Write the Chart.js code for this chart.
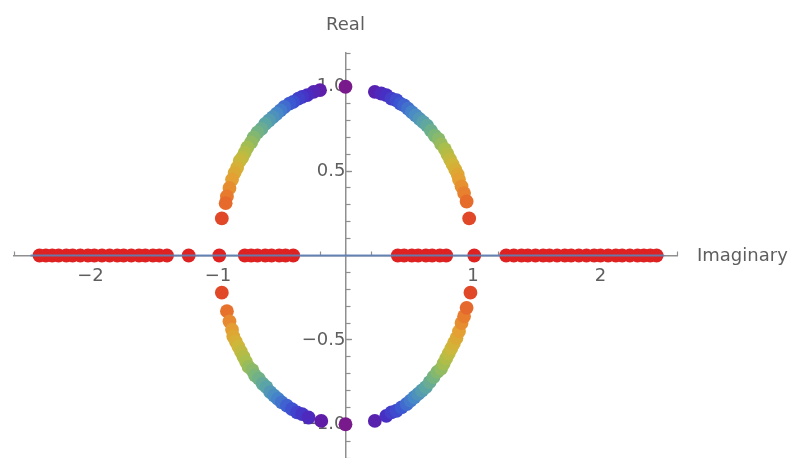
<!DOCTYPE html>
<html>
<head>
<meta charset="utf-8">
<script src="https://cdn.jsdelivr.net/npm/chart.js@4/dist/chart.umd.min.js"></script>
<style>
  html, body { margin: 0; padding: 0; background: #fff; }
  #wrap { width: 789px; height: 458px; position: relative; }
</style>
</head>
<body>
<div id="wrap"><canvas id="c"></canvas></div>
<script>
// Eigenvalues on the unit circle (x = imaginary part, y = real part)
const arcUpperLeft = [
  [-0.20, 0.98], [-0.25, 0.97], [-0.30, 0.95], [-0.34, 0.94], [-0.37, 0.93],
  [-0.41, 0.91], [-0.44, 0.90], [-0.48, 0.88], [-0.51, 0.86], [-0.54, 0.84],
  [-0.57, 0.82], [-0.60, 0.80], [-0.63, 0.78], [-0.66, 0.75], [-0.69, 0.73],
  [-0.72, 0.70], [-0.74, 0.67], [-0.77, 0.64], [-0.79, 0.61], [-0.81, 0.58],
  [-0.83, 0.56], [-0.85, 0.52], [-0.87, 0.49], [-0.89, 0.45], [-0.91, 0.40],
  [-0.93, 0.35], [-0.94, 0.31], [-0.97, 0.22]
];
const arcUpperRight = [
  [0.23, 0.97], [0.28, 0.96], [0.32, 0.95], [0.36, 0.93], [0.40, 0.92],
  [0.43, 0.90], [0.46, 0.89], [0.49, 0.87], [0.52, 0.85], [0.55, 0.83],
  [0.58, 0.81], [0.61, 0.79], [0.64, 0.77], [0.67, 0.74], [0.70, 0.71],
  [0.73, 0.69], [0.75, 0.66], [0.78, 0.63], [0.80, 0.60], [0.82, 0.57],
  [0.84, 0.54], [0.86, 0.51], [0.88, 0.48], [0.89, 0.45], [0.91, 0.41],
  [0.93, 0.37], [0.95, 0.32], [0.97, 0.22]
];
const arcLowerLeft = [
  [-0.97, -0.22], [-0.93, -0.33], [-0.91, -0.39], [-0.89, -0.44], [-0.88, -0.48],
  [-0.86, -0.51], [-0.84, -0.54], [-0.82, -0.57], [-0.80, -0.60], [-0.78, -0.63],
  [-0.76, -0.66], [-0.73, -0.68], [-0.71, -0.71], [-0.68, -0.73], [-0.65, -0.76],
  [-0.62, -0.78], [-0.59, -0.81], [-0.56, -0.83], [-0.53, -0.85], [-0.50, -0.87],
  [-0.46, -0.89], [-0.42, -0.91], [-0.38, -0.93], [-0.34, -0.94], [-0.29, -0.96],
  [-0.19, -0.98]
];
const arcLowerRight = [
  [0.23, -0.98], [0.32, -0.95], [0.36, -0.93], [0.40, -0.92], [0.44, -0.90],
  [0.48, -0.88], [0.51, -0.86], [0.54, -0.84], [0.57, -0.82], [0.60, -0.80],
  [0.63, -0.78], [0.66, -0.75], [0.69, -0.72], [0.72, -0.69], [0.75, -0.67],
  [0.77, -0.64], [0.79, -0.61], [0.81, -0.58], [0.83, -0.55], [0.85, -0.52],
  [0.87, -0.49], [0.89, -0.45], [0.91, -0.40], [0.93, -0.36], [0.95, -0.31],
  [0.98, -0.22]
];
const axisPoints = [[0, 1.0], [0, -1.0]];

// Purely real eigenvalues, plotted along the horizontal axis
const realEigen = [
  -2.40, -2.35, -2.30, -2.25, -2.19, -2.14, -2.08, -2.02, -1.97, -1.91,
  -1.85, -1.79, -1.74, -1.68, -1.62, -1.57, -1.51, -1.46, -1.40, -1.23,
  -0.99, -0.79, -0.74, -0.69, -0.63, -0.58, -0.52, -0.47, -0.41,
  0.41, 0.46, 0.52, 0.57, 0.63, 0.68, 0.74, 0.79, 1.01,
  1.26, 1.32, 1.38, 1.43, 1.49, 1.55, 1.60, 1.66, 1.72, 1.77, 1.83,
  1.89, 1.95, 2.00, 2.06, 2.12, 2.17, 2.23, 2.29, 2.34, 2.39, 2.44
];

// Reference line along the axis
const lineX = [-2.47, 2.50];
const lineY = [0, 0];

// Axis ticks
const xLabelTicks = [-2, -1, 1, 2];
const yLabelTicks = [-1.0, -0.5, 0.5, 1.0];
const xRange = [-2.6, 2.6];
const yRange = [-1.2, 1.2];

const FONT = 'DejaVu Sans';
const AXIS_GRAY = '#8f8f8f';
const LABEL_GRAY = '#5e5e5e';
const DOT_R = 6.9;

// Rainbow palette, purple near the imaginary axis to red near the real axis
const rainbow = [
  [0.00, [120, 26, 140]],
  [0.14, [96, 28, 166]],
  [0.24, [72, 46, 196]],
  [0.33, [60, 84, 210]],
  [0.42, [70, 134, 202]],
  [0.50, [90, 164, 168]],
  [0.58, [122, 182, 122]],
  [0.66, [166, 190, 78]],
  [0.74, [206, 184, 58]],
  [0.82, [228, 160, 50]],
  [0.90, [232, 122, 46]],
  [1.00, [224, 72, 40]]
];
function rainbowAt(t) {
  t = Math.max(0, Math.min(1, t));
  for (let i = 1; i < rainbow.length; i++) {
    const [t1, c1] = rainbow[i];
    const [t0, c0] = rainbow[i - 1];
    if (t <= t1) {
      const f = (t - t0) / (t1 - t0);
      const c = c0.map((v, k) => Math.round(v + (c1[k] - v) * f));
      return `rgb(${c[0]},${c[1]},${c[2]})`;
    }
  }
  const c = rainbow[rainbow.length - 1][1];
  return `rgb(${c[0]},${c[1]},${c[2]})`;
}
function arcColor(p) {
  const ang = Math.atan2(Math.abs(p.x), Math.abs(p.y)) * 180 / Math.PI;
  return rainbowAt(ang / 77);
}

const toXY = arr => arr.map(([x, y]) => ({ x, y }));
const arcData = [].concat(
  toXY(arcUpperLeft), toXY(arcUpperRight), toXY(arcLowerLeft),
  toXY(arcLowerRight), toXY(axisPoints)
);
const realData = realEigen.map(x => ({ x, y: 0 }));
const lineData = lineX.map((x, i) => ({ x, y: lineY[i] }));

const minus = s => s.replace('-', '\u2212');
const fmtX = v => minus(String(v));
const fmtY = v => minus(v.toFixed(1));

function stepTicks(lo, hi, step) {
  const out = [];
  const n = Math.round((hi - lo) / step);
  for (let i = 0; i <= n; i++) out.push({ value: +(lo + i * step).toFixed(4) });
  return out;
}

// Crossing axes should not push the plot area inwards
const noPad = s => { s.paddingLeft = 0; s.paddingRight = 0; s.paddingTop = 0; s.paddingBottom = 0; };

// Axis titles placed at the ends of the crossing axes
const axisTitles = {
  id: 'axisTitles',
  afterDraw(chart) {
    const { ctx, scales: { x, y } } = chart;
    ctx.save();
    ctx.fillStyle = LABEL_GRAY;
    ctx.font = `18px "${FONT}"`;
    ctx.textAlign = 'left';
    ctx.textBaseline = 'middle';
    ctx.fillText('Imaginary', x.right + 20, y.getPixelForValue(0) + 1);
    ctx.textAlign = 'center';
    ctx.textBaseline = 'alphabetic';
    ctx.fillText('Real', x.getPixelForValue(0), y.top - 23);
    ctx.restore();
  }
};

new Chart(document.getElementById('c'), {
  type: 'scatter',
  data: {
    datasets: [
      {
        data: lineData,
        showLine: true,
        borderColor: 'rgba(94,129,181,0.9)',
        borderWidth: 2.2,
        pointRadius: 0,
        order: 0,
        xAxisID: 'x', yAxisID: 'y'
      },
      {
        data: realData,
        backgroundColor: 'rgb(222,34,34)',
        borderWidth: 0,
        pointRadius: DOT_R,
        order: 1,
        xAxisID: 'x', yAxisID: 'y'
      },
      {
        data: arcData,
        backgroundColor: ctx => arcColor(ctx.raw),
        borderWidth: 0,
        pointRadius: DOT_R,
        order: 2,
        xAxisID: 'x', yAxisID: 'y'
      }
    ]
  },
  options: {
    responsive: true,
    maintainAspectRatio: false,
    animation: false,
    layout: { autoPadding: false, padding: { left: 14, right: 112, top: 53, bottom: -1 } },
    plugins: { legend: { display: false }, tooltip: { enabled: false } },
    scales: {
      x: {
        type: 'linear', min: xRange[0], max: xRange[1], position: { y: 0 },
        afterBuildTicks: s => { s.ticks = xLabelTicks.map(v => ({ value: v })); },
        afterFit: noPad,
        grid: { drawOnChartArea: false, drawTicks: true, tickLength: -7, tickColor: AXIS_GRAY, tickWidth: 1.3 },
        border: { display: true, color: AXIS_GRAY, width: 1.5 },
        ticks: { autoSkip: false, maxRotation: 0, padding: 17, color: LABEL_GRAY,
                 font: { family: FONT, size: 18 }, callback: v => fmtX(v) }
      },
      xMinor: {
        type: 'linear', axis: 'x', min: xRange[0], max: xRange[1], position: { y: 0 },
        afterBuildTicks: s => { s.ticks = stepTicks(xRange[0], xRange[1], 0.2); },
        afterFit: noPad,
        grid: { drawOnChartArea: false, drawTicks: true, tickLength: -4.5, tickColor: AXIS_GRAY, tickWidth: 1.2 },
        border: { display: false },
        ticks: { display: false, autoSkip: false }
      },
      y: {
        type: 'linear', min: yRange[0], max: yRange[1], position: { x: 0 },
        afterBuildTicks: s => { s.ticks = yLabelTicks.map(v => ({ value: v })); },
        afterFit: noPad,
        grid: { drawOnChartArea: false, drawTicks: true, tickLength: -7, tickColor: AXIS_GRAY, tickWidth: 1.3 },
        border: { display: true, color: AXIS_GRAY, width: 1.5 },
        ticks: { autoSkip: false, padding: 15, color: LABEL_GRAY,
                 font: { family: FONT, size: 18 }, callback: v => fmtY(v) }
      },
      yMinor: {
        type: 'linear', axis: 'y', min: yRange[0], max: yRange[1], position: { x: 0 },
        afterBuildTicks: s => { s.ticks = stepTicks(yRange[0], yRange[1], 0.1); },
        afterFit: noPad,
        grid: { drawOnChartArea: false, drawTicks: true, tickLength: -4.5, tickColor: AXIS_GRAY, tickWidth: 1.2 },
        border: { display: false },
        ticks: { display: false, autoSkip: false }
      }
    }
  },
  plugins: [axisTitles]
});
</script>
</body>
</html>
